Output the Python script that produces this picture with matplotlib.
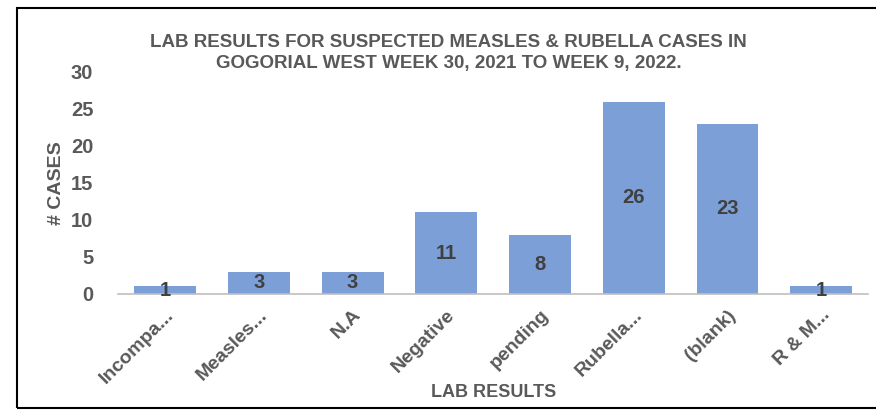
import matplotlib
matplotlib.use("Agg")
from matplotlib import pyplot as plt
from matplotlib.patches import Rectangle

categories = ["Incompa...", "Measles...", "N.A", "Negative", "pending", "Rubella...", "(blank)", "R & M..."]
cases = [1, 3, 3, 11, 8, 26, 23, 1]

plt.rcParams['font.family'] = ['Liberation Sans', 'DejaVu Sans']
grey = "#595959"

fig = plt.figure(figsize=(8.76, 4.11), dpi=100)
ax = fig.add_axes([0.135, 0.285, 0.856, 0.54])

x = range(len(categories))
bars = ax.bar(x, cases, 0.66, color="#7B9FD6")
ax.bar_label(bars, label_type="center", fontsize=14.5, fontweight="bold", color="#404040")

ax.set_xlim(-0.5, len(categories) - 0.5)
ax.set_ylim(0, 30)
ax.set_yticks(range(0, 31, 5))
ax.set_xticks(list(x))
ax.set_xticklabels(categories, rotation=45, ha="right", rotation_mode="anchor",
                   fontsize=14, fontweight="bold", color=grey)
ax.tick_params(axis="y", length=0, labelsize=14.5, labelcolor=grey, pad=18)
ax.tick_params(axis="x", length=0, pad=9)
for lab in ax.get_yticklabels():
    lab.set_fontweight("bold")

for side in ("top", "right", "left"):
    ax.spines[side].set_visible(False)
ax.spines["bottom"].set_color("#BFBFBF")
ax.spines["bottom"].set_linewidth(1.2)

ax.set_ylabel("# CASES", fontsize=14, fontweight="bold", color=grey, labelpad=4)
ax.set_xlabel("LAB RESULTS", fontsize=13, fontweight="bold", color=grey, labelpad=-2)

fig.text(0.512, 0.871, "LAB RESULTS FOR SUSPECTED MEASLES & RUBELLA CASES IN\nGOGORIAL WEST WEEK 30, 2021 TO WEEK 9, 2022.",
         ha="center", va="center", fontsize=13.5, fontweight="bold", color=grey, linespacing=1.35)

fig.patches.append(Rectangle((17 / 876, 3 / 411), 1.0, 400 / 411, transform=fig.transFigure,
                             fill=False, edgecolor="black", linewidth=1.5))

fig.savefig("out.png", dpi=100)
